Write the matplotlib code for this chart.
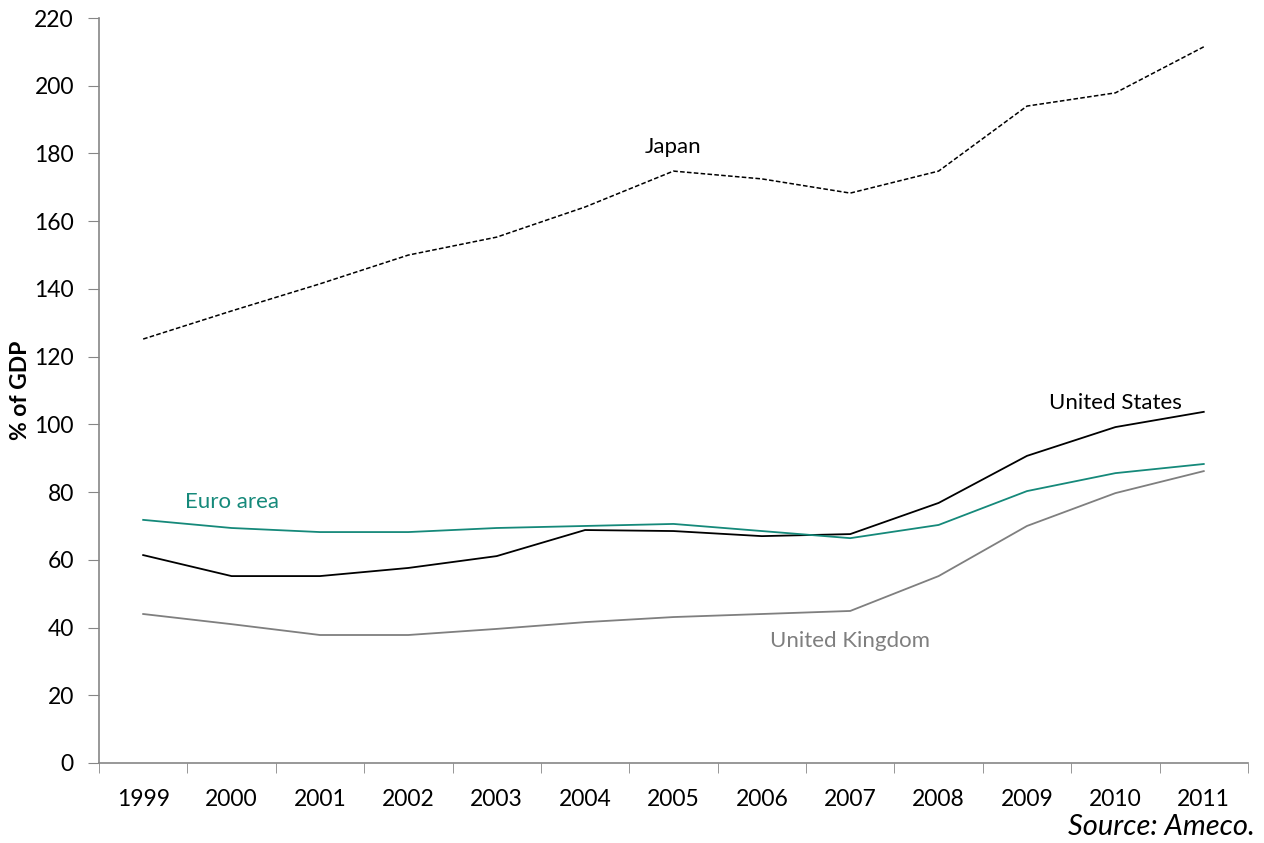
import matplotlib.pyplot as plt

years = ["1999", "2000", "2001", "2002", "2003", "2004", "2005",
         "2006", "2007", "2008", "2009", "2010", "2011"]
japan = [125.2, 133.5, 141.5, 150.0, 155.3, 164.2, 174.8, 172.5, 168.3, 174.8, 194.0, 197.9, 211.5]
united_states = [61.4, 55.2, 55.2, 57.6, 61.1, 68.8, 68.5, 67.0, 67.6, 76.8, 90.7, 99.2, 103.7]
euro_area = [71.8, 69.4, 68.2, 68.2, 69.4, 70.0, 70.6, 68.5, 66.4, 70.3, 80.3, 85.6, 88.3]
united_kingdom = [44.0, 41.0, 37.8, 37.8, 39.6, 41.6, 43.1, 44.0, 44.9, 55.2, 70.0, 79.7, 86.2]

plt.rcParams['font.family'] = ['Lato', 'DejaVu Sans']

teal = '#15897a'
grey = '#7f7f7f'
axis_grey = '#868686'

fig = plt.figure(figsize=(12.64, 8.43), dpi=100)
ax = fig.add_axes([0.0783, 0.0949, 0.909, 0.8837])

x = range(len(years))
ax.plot(x, japan, color='black', lw=1.1, linestyle=(0, (3, 1.5)))
ax.plot(x, united_states, color='black', lw=1.3)
ax.plot(x, euro_area, color=teal, lw=1.3)
ax.plot(x, united_kingdom, color=grey, lw=1.3)

# series labels
ax.text(6, 182, "Japan", fontsize=16, ha='center', va='center', color='black')
ax.text(11, 106.3, "United States", fontsize=16, ha='center', va='center', color='black')
ax.text(1, 77, "Euro area", fontsize=16, ha='center', va='center', color=teal)
ax.text(8, 36, "United Kingdom", fontsize=16, ha='center', va='center', color=grey)

ax.set_xlim(-0.5, len(years) - 0.5)
ax.set_ylim(0, 220)
ax.set_yticks(range(0, 221, 20))
ax.set_xticks(x)
ax.set_xticklabels(years)
ax.set_xticks([i - 0.5 for i in range(len(years) + 1)], minor=True)

ax.tick_params(axis='x', which='major', length=0, pad=19, labelsize=16.5)
ax.tick_params(axis='x', which='minor', length=7, color=axis_grey, direction='out')
ax.tick_params(axis='y', length=8, color=axis_grey, pad=10, labelsize=16.5)

for side in ['top', 'right']:
    ax.spines[side].set_visible(False)
for side in ['left', 'bottom']:
    ax.spines[side].set_color(axis_grey)
    ax.spines[side].set_linewidth(1.2)

ax.set_ylabel("% of GDP", fontsize=16.5, fontweight='bold')
ax.yaxis.set_label_coords(-0.059, 0.5)

fig.text(0.993, 0.004, "Source: Ameco.", fontsize=21, style='italic', ha='right', va='bottom')

fig.savefig("out.png", dpi=100)
